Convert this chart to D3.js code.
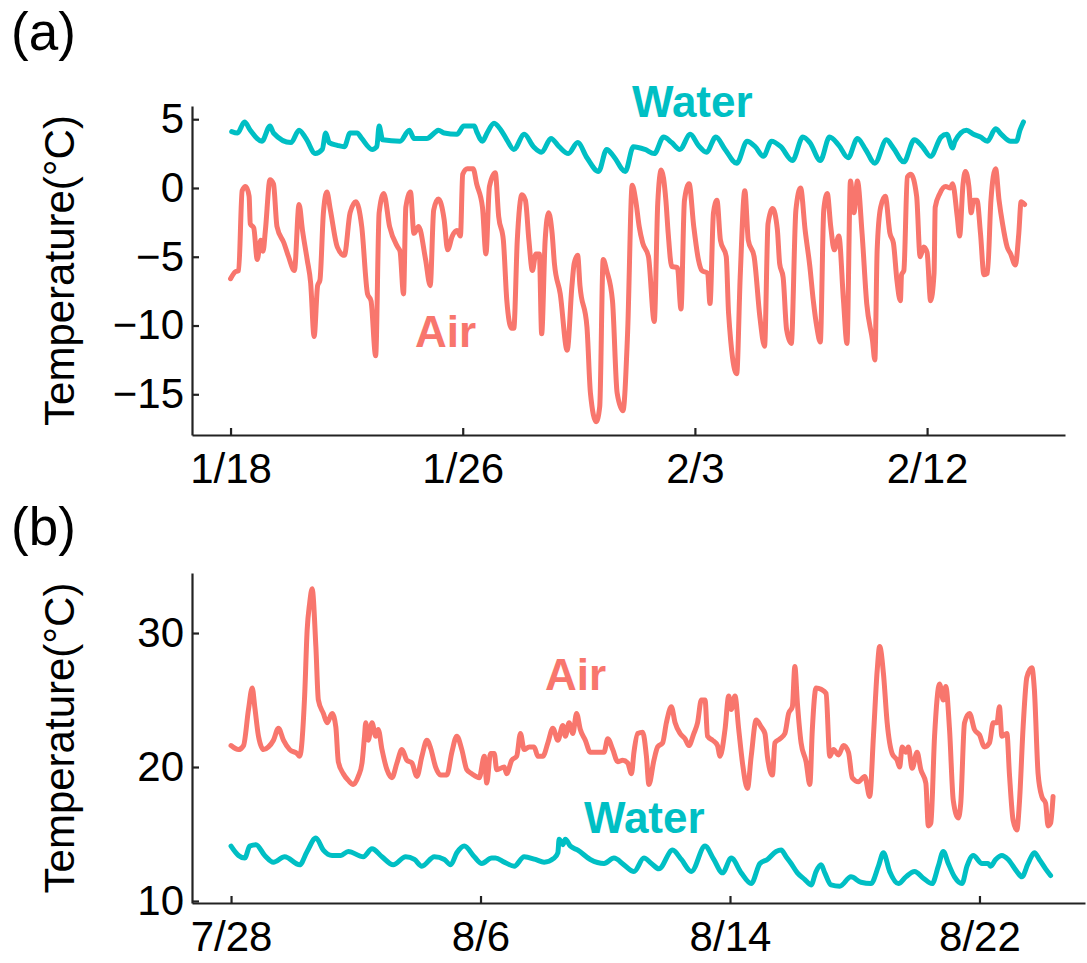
<!DOCTYPE html>
<html>
<head>
<meta charset="utf-8">
<script src="https://cdn.jsdelivr.net/npm/d3@7"></script>
<style>
  html, body { margin: 0; padding: 0; background: #ffffff; }
  svg { display: block; font-family: "Liberation Sans", Arial, sans-serif; }
</style>
</head>
<body>
<svg id="chart" width="1087" height="963"></svg>
<script>
// ---- (a) winter record: hours since 1/18 00:00 ----
const winterAirHours = [0,4,7,10,13,16,17,20,23,26,28,30,34,37,40,46,50,55,59,62,66,69,72,75,77,80,83,86,92,98,103,108,113,118,121,125,128,132,137,144,146,149,151,155,158,162,168,172,175,179,184,187,191,195,198,200,204,209,212,217,220,223,228,231,235,238,242,244,247,251,254,257,260,263,266,268,271,274,277,279,284,290,294,296,299,301,307,310,315,318,321,324,329,333,338,342,346,349,352,355,360,365,368,371,375,377,380,385,388,391,395,399,403,406,411,413,416,419,422,427,429,436,439,443,446,451,456,460,463,467,471,473,476,479,483,487,491,495,499,502,505,508,511,514,517,520,524,528,531,534,537,540,544,548,553,555,557,560,564,568,571,574,577,578,580,583,586,591,594,597,600,603,606,607,611,616,620,622,626,628,631,633,636,638,640,643,646,649,652,655,659,662,665,669,672,676,679,681,684];
const winterAirTemp = [-6.6,-6.1,-6.0,-0.2,0.1,-0.6,-2.6,-2.9,-5.2,-3.8,-4.6,-3.1,0.6,0.3,-2.8,-4.0,-5.0,-6.0,-1.2,-3.1,-5.2,-6.9,-10.8,-7.1,-6.7,-1.8,-0.3,-1.6,-4.3,-4.9,-1.8,-1.0,-2.8,-7.7,-8.2,-12.2,-1.8,-0.4,-2.8,-4.3,-4.6,-7.7,-1.4,-0.3,-3.3,-2.8,-5.2,-7.1,-1.6,-0.8,-2.3,-4.5,-3.5,-3.1,-3.5,1.0,1.4,1.4,0.3,-1.4,-4.8,0.1,1.1,-2.1,-3.8,-8.2,-10.2,-10.2,-3.8,-0.5,-0.9,-3.8,-6.0,-4.8,-4.8,-10.6,-3.8,-1.8,-3.3,-5.5,-7.7,-11.8,-7.2,-5.5,-4.9,-7.1,-10.1,-14.9,-17.0,-15.9,-5.2,-6.0,-8.2,-14.9,-16.2,-10.6,0.2,-0.9,-2.8,-4.0,-5.0,-9.7,-1.1,1.3,-0.9,-3.3,-5.7,-5.8,-8.8,-0.9,0.3,-2.8,-5.2,-6.0,-6.2,-8.4,-1.8,-0.9,-3.8,-5.0,-9.1,-13.5,-6.5,-0.2,-3.8,-5.0,-9.4,-11.5,-2.6,-1.5,-3.0,-5.5,-6.5,-10.3,-11.3,-1.6,0.0,-3.1,-5.7,-8.2,-10.1,-11.2,-1.6,-0.4,-2.8,-4.5,-3.5,-8.2,-11.3,0.5,-1.8,0.5,-3.3,-8.4,-11.1,-12.5,-4.5,-1.4,-0.6,-3.3,-4.0,-6.7,-8.2,-6.3,-6.0,0.8,1.0,-0.6,-5.0,-4.3,-4.7,-8.2,-6.2,-1.4,-0.4,0.1,0.0,0.3,-2.1,-3.5,0.3,1.2,0.1,-1.8,-0.9,-0.9,-3.3,-6.3,-6.2,-0.9,1.4,-0.9,-2.6,-4.3,-4.8,-5.6,-3.3,-1.0,-1.2];

const winterWaterHours = [1,6,12,17,27,34,37,52,59,65,73,79,82,85,92,98,103,109,113,122,126,128,131,146,154,158,169,177,179,184,195,201,210,212,217,221,227,233,238,244,253,261,268,276,283,291,299,307,317,324,330,340,347,357,365,373,380,387,396,403,410,418,426,436,445,452,459,466,474,484,493,499,508,516,524,532,540,547,555,565,571,580,589,596,603,612,617,622,624,634,640,646,652,659,664,672,677,680,683];
const winterWaterTemp = [4.1,4.0,4.8,4.2,3.4,4.5,4.0,3.3,4.2,3.6,2.5,2.8,4.0,3.3,3.1,3.0,4.0,4.0,3.6,2.8,3.0,4.5,3.5,3.4,4.2,3.6,3.6,4.1,4.2,4.0,3.9,4.5,4.5,4.1,3.4,4.0,4.7,4.2,3.5,2.8,3.9,3.0,2.6,3.6,3.0,2.5,3.3,2.2,1.2,2.8,2.3,1.2,3.0,2.8,2.5,3.7,3.3,2.8,3.9,3.1,2.6,3.7,2.8,1.8,3.4,3.0,2.3,3.4,3.0,2.0,3.7,3.3,2.0,3.7,3.1,2.2,3.6,2.8,1.8,3.5,2.9,1.9,3.5,3.0,2.3,3.7,3.9,2.9,3.4,4.2,3.9,3.7,3.4,4.3,3.9,3.4,3.4,4.2,4.8];

// ---- (b) summer record: hours since 7/28 16:00 ----
const summerAirHours = [0,6,10,14,17,19,22,26,30,34,38,42,47,53,55,59,61,63,65,68,70,74,77,81,84,86,90,94,98,102,105,107,108,110,113,116,118,121,125,129,133,137,141,145,149,153,157,160,164,168,173,177,181,185,189,193,199,203,205,208,211,213,219,221,225,229,232,235,239,243,246,250,254,258,262,266,268,271,274,277,280,284,288,294,299,302,306,310,314,318,321,323,326,330,333,335,339,342,346,349,353,356,360,364,367,371,374,377,380,382,386,390,392,396,399,401,404,407,410,414,417,421,425,428,430,434,436,440,444,447,450,452,454,457,461,464,466,469,473,477,480,483,487,491,495,498,503,508,512,515,518,520,523,526,530,534,536,538,541,543,546,550,553,557,559,561,564,568,571,573,576,579,583,585,588,592,596,600,604,608,611,614,616,618,622,624,627,630,632,635,638,642,644,647,650,653,655,657,659];
const summerAirTemp = [21.6,21.3,21.6,24.3,25.9,24.5,22.3,21.3,21.5,22.0,22.9,22.0,21.3,21.0,20.8,25.3,30.2,32.2,33.3,29.0,25.0,24.0,23.3,24.0,23.0,20.4,19.5,19.0,18.7,19.3,20.3,22.3,23.3,22.0,23.3,22.3,22.8,21.3,19.8,19.2,20.3,21.3,20.5,20.3,19.3,20.8,22.0,21.4,20.0,19.4,19.4,21.1,22.3,21.3,19.8,19.5,19.2,20.8,18.8,21.0,21.0,19.8,20.0,19.5,20.5,20.8,22.5,21.3,21.5,21.5,20.8,20.8,21.8,22.9,22.0,23.1,22.3,23.3,22.5,24.0,22.8,22.0,21.1,21.1,21.1,22.1,21.3,20.4,20.5,20.3,19.5,21.1,22.5,22.6,20.8,18.7,20.5,21.5,21.8,23.3,24.5,23.3,22.5,22.1,21.6,22.5,23.3,25.0,25.0,22.3,22.0,21.6,20.8,22.8,25.3,24.3,25.3,22.8,20.3,18.4,20.8,23.5,23.0,22.5,20.8,19.4,21.8,22.1,22.5,24.0,24.5,27.5,24.8,21.8,20.4,18.7,22.8,25.9,25.8,25.5,20.8,21.3,20.9,21.6,21.1,19.2,18.9,19.3,17.8,22.3,27.2,29.0,27.0,23.3,21.0,20.5,20.0,21.5,21.1,21.5,19.9,21.1,19.8,18.8,15.6,15.8,22.3,26.2,25.0,26.0,22.8,17.5,16.2,17.3,23.3,24.0,22.8,22.4,21.5,21.8,23.3,23.3,24.5,22.3,22.5,19.5,16.0,15.3,17.3,23.0,26.7,27.4,25.8,19.5,17.8,17.3,15.6,15.8,17.8];

const summerWaterHours = [0,6,11,15,20,27,34,43,55,61,68,74,81,88,94,106,113,121,130,140,147,153,163,171,176,181,187,195,201,209,212,219,227,235,244,251,259,262,263,266,268,272,278,288,299,307,315,323,331,337,343,354,361,369,380,387,394,401,409,417,424,430,437,441,445,449,454,460,465,469,473,476,481,488,497,505,513,519,523,528,535,541,548,555,562,567,571,575,580,586,590,595,602,607,609,613,618,623,630,634,639,644,648,653,657];
const summerWaterTemp = [14.1,13.4,13.2,14.1,14.2,13.4,12.9,13.3,12.7,13.7,14.7,13.8,13.4,13.4,13.7,13.3,13.9,13.3,12.7,13.3,13.1,12.6,13.3,13.1,12.7,13.6,14.1,13.3,12.8,13.2,13.2,12.9,12.6,13.3,13.1,12.9,13.2,13.6,14.6,14.2,14.6,14.1,13.8,13.1,12.8,13.2,12.7,12.2,13.2,12.8,12.4,13.8,13.1,12.2,14.1,13.1,12.1,13.2,12.1,11.3,12.8,13.1,13.7,13.8,13.3,12.8,12.1,11.6,11.2,12.2,12.7,12.1,11.2,11.1,11.8,11.4,11.3,12.6,13.6,12.2,11.3,11.8,12.2,11.7,11.3,12.6,13.7,12.8,11.8,11.3,12.6,13.4,12.8,12.8,12.6,13.1,13.4,13.1,12.2,11.8,12.8,13.6,13.1,12.4,11.9];

// ---- axis ticks ----
const winterTickHours = [0, 200, 400, 600];
const winterTickLabels = ["1/18", "1/26", "2/3", "2/12"];
const winterTempTicks = [5, 0, -5, -10, -15];
const summerTickHours = [0, 200, 400, 600];
const summerTickLabels = ["7/28", "8/6", "8/14", "8/22"];
const summerTempTicks = [30, 20, 10];

const AIR = "#F8766D";
const WATER = "#00BFC4";

const svg = d3.select("#chart");

const zip = (hs, vs) => hs.map((h, i) => ({ h: h, v: vs[i] }));

function panel(cfg) {
  const g = svg.append("g");
  const x = d3.scaleLinear().domain(cfg.xDomain).range([cfg.left, cfg.right]);
  const y = d3.scaleLinear().domain(cfg.yDomain).range([cfg.bottom, cfg.top]);

  const line = d3.line()
    .curve(d3.curveMonotoneX)
    .x(d => x(d.h))
    .y(d => y(d.v));

  cfg.series.forEach(s => {
    g.append("path")
      .datum(zip(s.hours, s.temps))
      .attr("d", line)
      .attr("fill", "none")
      .attr("stroke", s.color)
      .attr("stroke-width", 5)
      .attr("stroke-linejoin", "round")
      .attr("stroke-linecap", "round");
  });

  const xAxis = d3.axisBottom(x)
    .tickValues(cfg.xTicks)
    .tickFormat((d, i) => cfg.xLabels[i])
    .tickSizeInner(-7)
    .tickSizeOuter(0)
    .tickPadding(18);
  const gx = g.append("g").attr("transform", `translate(0,${cfg.bottom})`).call(xAxis);

  const yAxis = d3.axisLeft(y)
    .tickValues(cfg.yTicks)
    .tickFormat(d => d < 0 ? "\u2212" + Math.abs(d) : String(d))
    .tickSizeInner(-7)
    .tickSizeOuter(0)
    .tickPadding(8);
  const gy = g.append("g").attr("transform", `translate(${cfg.left},0)`).call(yAxis);

  [gx, gy].forEach(a => {
    a.select(".domain").attr("stroke", "#222").attr("stroke-width", 2.2);
    a.selectAll(".tick line").attr("stroke", "#222").attr("stroke-width", 2.2);
    a.selectAll(".tick text")
      .attr("fill", "#000")
      .style("font-family", "'Liberation Sans', Arial, sans-serif")
      .style("font-size", "42px");
  });

  g.append("text")
    .attr("transform", `translate(74,${(cfg.top + cfg.bottom) / 2}) rotate(-90)`)
    .attr("text-anchor", "middle")
    .style("font-size", "42px")
    .attr("fill", "#000")
    .text("Temperature(\u00B0C)");

  g.append("text")
    .attr("x", 11).attr("y", cfg.tagY)
    .style("font-size", "53px")
    .attr("fill", "#000")
    .text(cfg.tag);

  cfg.labels.forEach(l => {
    g.append("text")
      .attr("x", l.x).attr("y", l.y)
      .style("font-size", "44px")
      .style("font-weight", "bold")
      .attr("fill", l.color)
      .text(l.text);
  });
}

panel({
  tag: "(a)", tagY: 50,
  left: 192, right: 1065, top: 106, bottom: 435,
  xDomain: [-33.2, 718.8], yDomain: [-17.96, 5.96],
  xTicks: winterTickHours, xLabels: winterTickLabels, yTicks: winterTempTicks,
  series: [
    { hours: winterWaterHours, temps: winterWaterTemp, color: WATER },
    { hours: winterAirHours, temps: winterAirTemp, color: AIR }
  ],
  labels: [
    { text: "Water", x: 632, y: 117, color: WATER },
    { text: "Air", x: 415, y: 347, color: AIR }
  ]
});

panel({
  tag: "(b)", tagY: 545,
  left: 192, right: 1085, top: 573, bottom: 903,
  xDomain: [-31.3, 684.6], yDomain: [9.85, 34.48],
  xTicks: summerTickHours, xLabels: summerTickLabels, yTicks: summerTempTicks,
  series: [
    { hours: summerWaterHours, temps: summerWaterTemp, color: WATER },
    { hours: summerAirHours, temps: summerAirTemp, color: AIR }
  ],
  labels: [
    { text: "Air", x: 545, y: 690, color: AIR },
    { text: "Water", x: 584, y: 833, color: WATER }
  ]
});
</script>
</body>
</html>
